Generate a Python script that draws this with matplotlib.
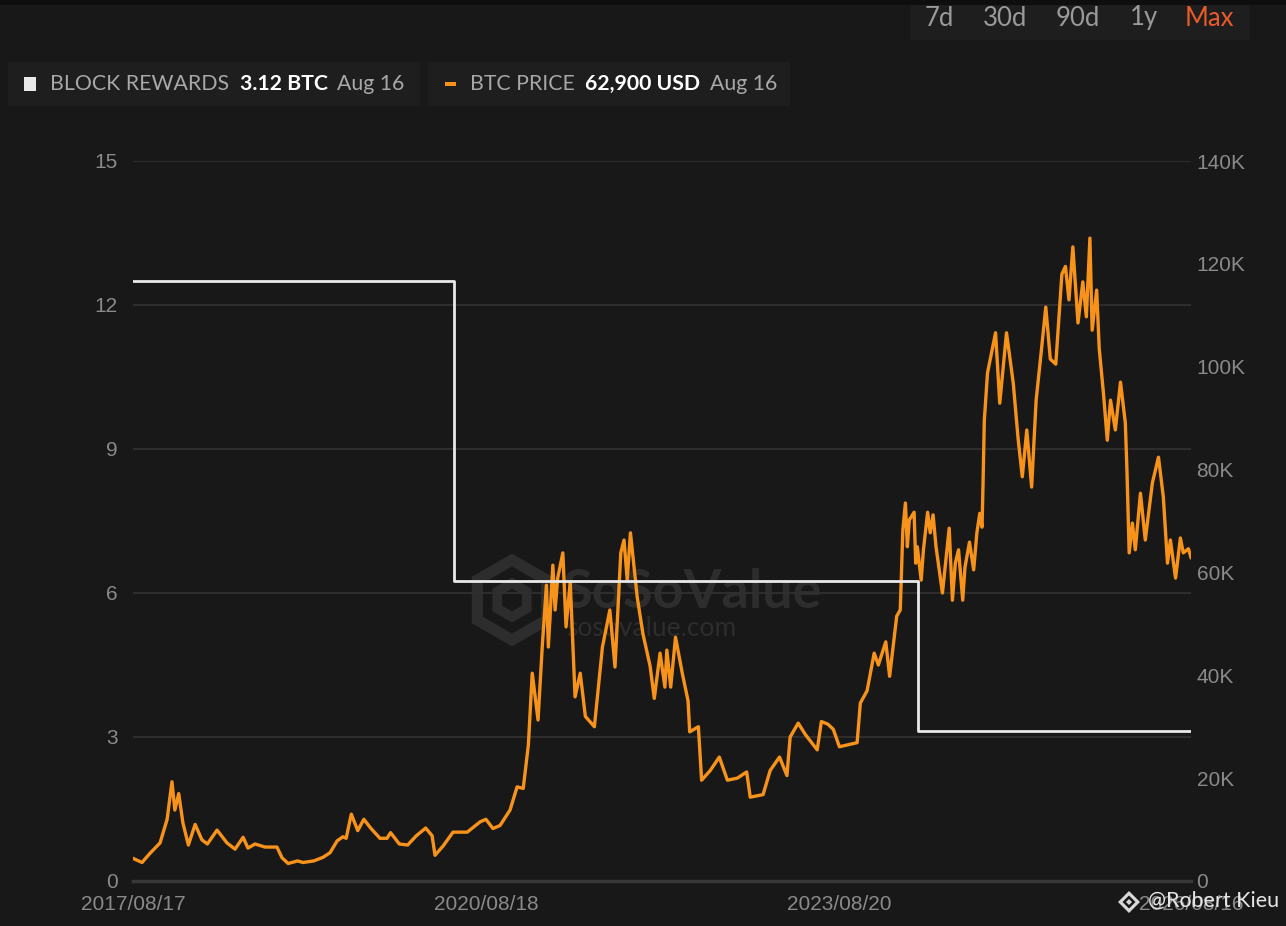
import matplotlib
matplotlib.use("Agg")
import matplotlib.pyplot as plt
import matplotlib.patches as mpatches
import pandas as pd

# block subsidy per block, changes at each halving
reward_dates = ["2017-08-17", "2020-05-11", "2024-04-20", "2026-08-16"]
reward_btc = [12.5, 6.25, 3.125, 3.125]

# BTC price in thousands of USD
price_dates = [
    "2017-08-17", "2017-09-14", "2017-10-09", "2017-11-09", "2017-12-01", "2017-12-16",
    "2017-12-25", "2018-01-06", "2018-01-19", "2018-02-05", "2018-02-26", "2018-03-19",
    "2018-04-05", "2018-05-05", "2018-06-05", "2018-06-30", "2018-07-25", "2018-08-09",
    "2018-08-31", "2018-10-01", "2018-11-07", "2018-11-23", "2018-12-12", "2019-01-10",
    "2019-01-27", "2019-03-01", "2019-03-30", "2019-04-21", "2019-05-13", "2019-05-31",
    "2019-06-10", "2019-06-26", "2019-07-16", "2019-08-04", "2019-08-25", "2019-09-23",
    "2019-10-15", "2019-10-26", "2019-11-22", "2019-12-18", "2020-01-14", "2020-02-12",
    "2020-03-03", "2020-03-12", "2020-04-06", "2020-05-07", "2020-06-20", "2020-07-30",
    "2020-08-17", "2020-09-08", "2020-09-30", "2020-10-31", "2020-11-22", "2020-12-11",
    "2020-12-27", "2021-01-08", "2021-01-26", "2021-02-08", "2021-02-21", "2021-02-27",
    "2021-03-13", "2021-03-20", "2021-03-28", "2021-04-13", "2021-04-23", "2021-05-06",
    "2021-05-21", "2021-06-06", "2021-06-22", "2021-07-20", "2021-08-14", "2021-09-06",
    "2021-09-22", "2021-10-10", "2021-10-20", "2021-10-30", "2021-11-09", "2021-11-30",
    "2021-12-18", "2022-01-09", "2022-01-22", "2022-02-09", "2022-02-24", "2022-03-02",
    "2022-03-14", "2022-03-29", "2022-04-19", "2022-05-07", "2022-05-12", "2022-06-08",
    "2022-06-18", "2022-07-15", "2022-08-12", "2022-09-06", "2022-10-07", "2022-11-05",
    "2022-11-16", "2022-12-26", "2023-01-17", "2023-02-15", "2023-03-10", "2023-03-20",
    "2023-04-14", "2023-05-06", "2023-06-12", "2023-06-25", "2023-07-15", "2023-08-01",
    "2023-08-20", "2023-10-14", "2023-10-24", "2023-11-14", "2023-12-06", "2023-12-19",
    "2024-01-11", "2024-01-23", "2024-02-14", "2024-02-25", "2024-03-04", "2024-03-12",
    "2024-03-18", "2024-03-24", "2024-04-08", "2024-04-13", "2024-04-18", "2024-04-30",
    "2024-05-07", "2024-05-20", "2024-05-28", "2024-06-06", "2024-06-15", "2024-07-05",
    "2024-07-26", "2024-08-05", "2024-08-14", "2024-08-24", "2024-09-06", "2024-09-13",
    "2024-09-27", "2024-10-10", "2024-10-20", "2024-10-29", "2024-11-05", "2024-11-08",
    "2024-11-12", "2024-11-22", "2024-12-17", "2024-12-30", "2025-01-20", "2025-02-10",
    "2025-02-25", "2025-03-10", "2025-03-24", "2025-04-08", "2025-04-22", "2025-05-08",
    "2025-05-22", "2025-06-05", "2025-06-22", "2025-07-11", "2025-07-22", "2025-08-02",
    "2025-08-14", "2025-08-30", "2025-09-14", "2025-09-25", "2025-10-06", "2025-10-13",
    "2025-10-27", "2025-11-04", "2025-11-17", "2025-11-29", "2025-12-09", "2025-12-24",
    "2026-01-09", "2026-01-24", "2026-01-29", "2026-02-05", "2026-02-15", "2026-02-24",
    "2026-03-12", "2026-03-27", "2026-04-18", "2026-05-07", "2026-05-22", "2026-06-04",
    "2026-06-13", "2026-06-29", "2026-07-14", "2026-07-23", "2026-08-08", "2026-08-16",
]
price_k = [
    4.4, 3.6, 5.4, 7.4, 12.0, 19.3,
    13.8, 17.0, 11.3, 7.0, 11.0, 8.0,
    7.2, 9.9, 7.4, 6.2, 8.5, 6.4,
    7.2, 6.6, 6.6, 4.5, 3.4, 3.9,
    3.6, 3.9, 4.6, 5.5, 7.8, 8.6,
    8.3, 13.0, 9.8, 12.0, 10.3, 8.3,
    8.3, 9.4, 7.2, 7.0, 8.8, 10.3,
    8.8, 5.0, 6.8, 9.5, 9.5, 11.5,
    12.0, 10.2, 10.8, 13.8, 18.3, 18.0,
    26.5, 40.4, 31.3, 45.5, 57.5, 45.5,
    61.4, 52.7, 58.9, 63.8, 49.4, 58.1,
    35.8, 40.4, 32.0, 30.0, 45.5, 52.7,
    41.6, 63.8, 66.3, 58.5, 67.7, 55.2,
    48.0, 41.8, 35.5, 44.3, 37.7, 44.9,
    37.7, 47.4, 40.4, 35.0, 29.0, 30.0,
    19.6, 21.5, 24.1, 19.6, 20.0, 21.2,
    16.3, 16.8, 21.5, 24.1, 20.5, 28.0,
    30.7, 28.5, 25.5, 31.0, 30.5, 29.5,
    26.1, 26.9, 34.6, 37.0, 44.3, 42.0,
    46.5, 39.8, 51.5, 52.7, 68.2, 73.5,
    65.0, 70.2, 71.7, 61.8, 65.0, 58.5,
    64.4, 71.7, 67.7, 71.2, 65.0, 56.0,
    68.6, 54.6, 61.8, 64.4, 54.6, 61.0,
    65.9, 60.5, 67.7, 71.5, 68.8, 77.0,
    89.5, 98.8, 106.6, 92.9, 106.6, 96.8,
    86.0, 78.6, 87.7, 76.6, 93.5, 103.0,
    111.6, 101.5, 100.5, 118.0, 119.5, 113.0,
    123.3, 108.5, 116.5, 109.7, 125.0, 107.1,
    114.9, 103.5, 94.9, 85.7, 93.5, 87.7,
    97.0, 89.1, 80.0, 63.8, 69.6, 64.4,
    75.4, 66.3, 77.4, 82.4, 74.7, 61.8,
    66.3, 58.9, 66.7, 63.8, 64.6, 62.9,
]

x_ticks = ["2017-08-17", "2020-08-18", "2023-08-20", "2026-08-16"]
x_tick_labels = ["2017/08/17", "2020/08/18", "2023/08/20", "2026/08/16"]
left_ticks = [0, 3, 6, 9, 12, 15]
right_ticks = [0, 20, 40, 60, 80, 100, 120, 140]

BG = "#181818"
BOX = "#1e1e1e"
ORANGE = "#f7931a"
WHITE = "#e9e9e9"
GRAY = "#8a8a8a"
GRID = "#303030"
WM = "#2d2d2d"
W, H = 1286, 926


def fx(px):
    return px / W


def fy(py):
    return 1 - py / H


fig = plt.figure(figsize=(12.86, 9.26), dpi=100, facecolor=BG)

# header boxes
fig.add_artist(mpatches.Rectangle((0, fy(5)), 1, 5 / H, transform=fig.transFigure, color="#0e0e0e", lw=0))
fig.add_artist(mpatches.Rectangle((fx(910), fy(40)), 340 / W, 35 / H, transform=fig.transFigure, color=BOX, lw=0))
fig.add_artist(mpatches.Rectangle((fx(8), fy(106)), 412 / W, 44 / H, transform=fig.transFigure, color=BOX, lw=0))
fig.add_artist(mpatches.Rectangle((fx(428), fy(106)), 362 / W, 44 / H, transform=fig.transFigure, color=BOX, lw=0))

btn_font = dict(family="Lato", fontsize=18.5, va="center", ha="left")
for label, x0 in [("7d", 925), ("30d", 983), ("90d", 1056), ("1y", 1130)]:
    fig.text(fx(x0), fy(18), label, color="#9a9a9a", **btn_font)
fig.text(fx(1185), fy(18), "Max", color="#ea5a2b", **btn_font)

leg_font = dict(family="Lato", fontsize=15.3, va="center", ha="left")
fig.add_artist(mpatches.Rectangle((fx(24), fy(91)), 12 / W, 14 / H, transform=fig.transFigure, color=WHITE, lw=0))
fig.text(fx(50), fy(84), "BLOCK REWARDS", color="#a8a8a8", **leg_font)
fig.text(fx(240), fy(84), "3.12 BTC", color="#ffffff", fontweight="bold", **leg_font)
fig.text(fx(337), fy(84), "Aug 16", color="#a8a8a8", **leg_font)
fig.add_artist(mpatches.Rectangle((fx(445), fy(86)), 11 / W, 4 / H, transform=fig.transFigure, color=ORANGE, lw=0))
fig.text(fx(470), fy(84), "BTC PRICE", color="#a8a8a8", **leg_font)
fig.text(fx(585), fy(84), "62,900 USD", color="#ffffff", fontweight="bold", **leg_font)
fig.text(fx(710), fy(84), "Aug 16", color="#a8a8a8", **leg_font)

rect = [fx(133), fy(881), (1191 - 133) / W, 720 / H]
ax = fig.add_axes(rect)
ax.set_facecolor(BG)
ax2 = ax.twinx()   # price, right scale
ax3 = ax.twinx()   # reward step on top of the price line

rd = pd.to_datetime(reward_dates)
pdates = pd.to_datetime(price_dates)

ax2.plot(pdates, price_k, color=ORANGE, lw=2.4, solid_joinstyle="round")
ax3.step(rd, reward_btc, where="post", color=WHITE, lw=2.0)

ax.set_xlim(pd.Timestamp(x_ticks[0]), pd.Timestamp(x_ticks[-1]))
ax.set_ylim(0, 15)
ax3.set_ylim(0, 15)
ax2.set_ylim(0, 140)

ax.set_xticks(pd.to_datetime(x_ticks))
ax.set_xticklabels(x_tick_labels)
ax.set_yticks(left_ticks)
ax.set_yticklabels([str(v) for v in left_ticks])
ax2.set_yticks(right_ticks)
ax2.set_yticklabels(["0" if v == 0 else f"{v}K" for v in right_ticks])
ax3.set_yticks([])

for a in (ax, ax2, ax3):
    for s in a.spines.values():
        s.set_visible(False)
tick_font = "Liberation Sans"
ax.tick_params(axis="x", length=0, pad=10, labelsize=15, labelcolor=GRAY)
ax.tick_params(axis="y", length=0, pad=11, labelsize=15, labelcolor=GRAY)
ax2.tick_params(axis="y", length=0, pad=4, labelsize=15, labelcolor=GRAY)
for lab in ax.get_xticklabels() + ax.get_yticklabels() + ax2.get_yticklabels():
    lab.set_fontfamily(tick_font)

ax.set_axisbelow(True)
ax.yaxis.grid(True, color=GRID, lw=1.3)
ax.axhline(0, color="#383838", lw=2.5, clip_on=False, zorder=1)

# faint watermark behind the lines
ax.text(fx(563), fy(592), "SoSoValue", transform=fig.transFigure, fontsize=39, fontweight="bold",
        family="Lato", color=WM, va="center", ha="left", zorder=0.4)
ax.text(fx(566), fy(628), "sosovalue.com", transform=fig.transFigure, fontsize=19,
        family="Lato", color=WM, va="center", ha="left", zorder=0.4)
ax.add_patch(mpatches.RegularPolygon((5.12, 3.26), numVertices=6, radius=0.40, orientation=0,
                                     transform=fig.dpi_scale_trans, fill=False, ec=WM, lw=8, zorder=0.4))
ax.add_patch(mpatches.RegularPolygon((5.12, 3.26), numVertices=6, radius=0.17, orientation=0,
                                     transform=fig.dpi_scale_trans, fill=False, ec=WM, lw=7, zorder=0.4))

# author tag bottom right
fig.add_artist(mpatches.RegularPolygon((11.29, 0.24), numVertices=4, radius=0.11, orientation=0,
                                       transform=fig.dpi_scale_trans, color="#d8d8d8", lw=0))
fig.add_artist(mpatches.RegularPolygon((11.29, 0.24), numVertices=4, radius=0.065, orientation=0,
                                       transform=fig.dpi_scale_trans, color=BG, lw=0))
fig.add_artist(mpatches.RegularPolygon((11.29, 0.24), numVertices=4, radius=0.03, orientation=0,
                                       transform=fig.dpi_scale_trans, color="#d8d8d8", lw=0))
fig.text(fx(1148), fy(901), "@Robert Kieu", color="#e6e6e6", family="Lato", fontsize=15.5,
         va="center", ha="left")

fig.savefig("out.png", dpi=100, facecolor=BG)
